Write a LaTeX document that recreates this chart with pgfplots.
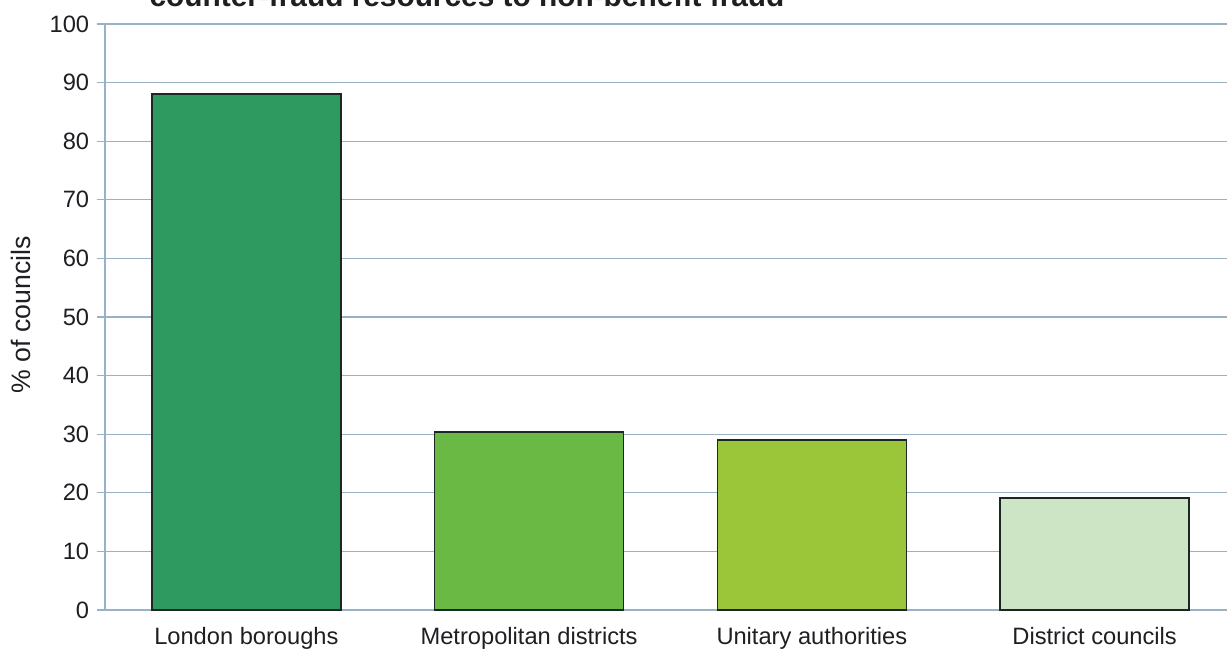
\documentclass[border=0pt]{standalone}
\usepackage{pgfplots}
\pgfplotsset{compat=1.18}
\usepackage{fontspec}
\setmainfont{Liberation Sans}
\definecolor{gridblue}{RGB}{150,178,196}
\definecolor{txt}{RGB}{30,30,35}
\definecolor{cLondon}{RGB}{46,154,96}
\definecolor{cMetro}{RGB}{106,185,68}
\definecolor{cUnitary}{RGB}{155,198,58}
\definecolor{cDistrict}{RGB}{205,228,197}
\definecolor{edge}{RGB}{25,40,35}
\begin{document}
\begin{tikzpicture}[x=0.6pt,y=0.6pt]
  % page frame: left edge 105 units before the y axis, bottom 45 units below it
  \useasboundingbox (-105,-45) rectangle (1122,610);
  \node[anchor=base, font=\bfseries\fontsize{17.9}{20}\selectfont, text=txt]
    at (362,603) {counter-fraud resources to non-benefit fraud};
  \node[rotate=90, font=\fontsize{16}{18}\selectfont, text=txt]
    at (-84,295) {\% of councils};
  \begin{axis}[
    at={(0,0)}, anchor=south west,
    scale only axis,
    width=678.6pt, height=351.6pt,
    xmin=-0.5, xmax=3.5,
    ymin=0, ymax=100,
    ytick={0,10,...,100},
    xtick={0,1,2,3},
    xticklabels={London boroughs, Metropolitan districts, Unitary authorities, District councils},
    extra x ticks={0.5,1.5,2.5},
    extra x tick labels={},
    extra x tick style={major tick length=5pt, tick style={gridblue}, grid=none},
    x tick style={draw=none},
    ytick style={gridblue, line width=0.7pt},
    major tick length=5pt,
    tick align=outside,
    ymajorgrids,
    grid style={gridblue, line width=0.7pt},
    axis line style={gridblue, line width=0.8pt},
    axis x line*=bottom,
    axis y line*=left,
    tick label style={font=\fontsize{14.2}{16}\selectfont, text=txt},
    /pgf/number format/assume math mode=true,
    yticklabel style={xshift=-1pt},
    xticklabel style={yshift=-2pt},
    ybar, bar width=113.4pt, bar shift=0pt,
    every axis plot/.append style={draw=edge, line width=1pt},
  ]
    \addplot[fill=cLondon]   coordinates {(0,88)};
    \addplot[fill=cMetro]    coordinates {(1,30.4)};
    \addplot[fill=cUnitary]  coordinates {(2,29.0)};
    \addplot[fill=cDistrict] coordinates {(3,19.1)};
  \end{axis}
\end{tikzpicture}
\end{document}
